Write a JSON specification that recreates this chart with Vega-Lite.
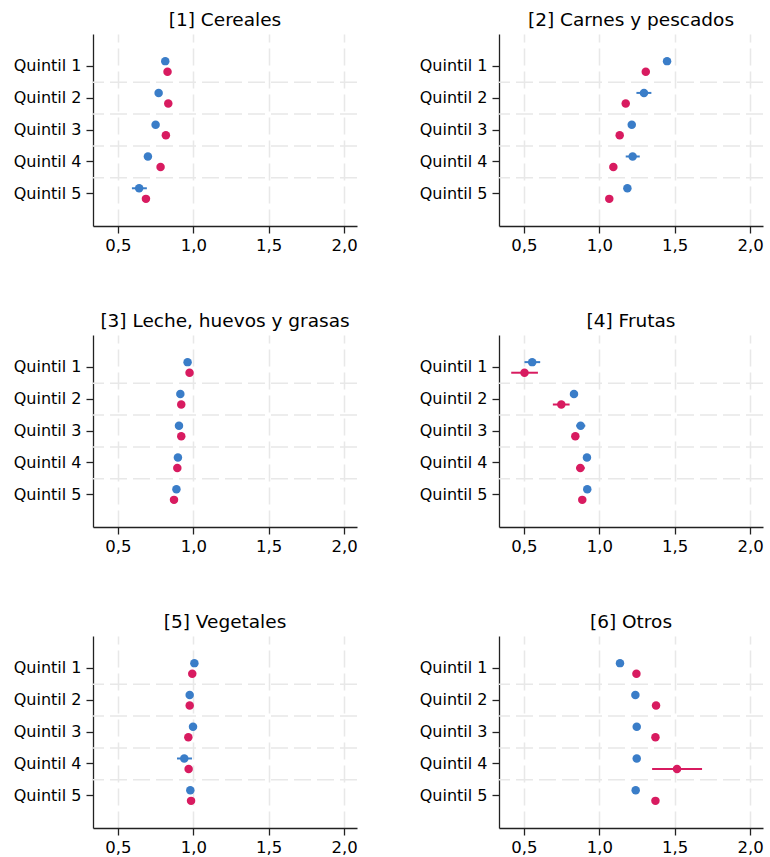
{
  "$schema": "https://vega.github.io/schema/vega-lite/v6.json",
  "padding": {"left": 13, "top": 10, "right": 0, "bottom": 0},
  "background": "white",
  "datasets": {
    "d": [
      {"panel": "[1] Cereales", "quintil": "Quintil 1", "serie": "A", "est": 0.814, "lo": 0.797, "hi": 0.831},
      {"panel": "[1] Cereales", "quintil": "Quintil 1", "serie": "B", "est": 0.829, "lo": 0.812, "hi": 0.846},
      {"panel": "[1] Cereales", "quintil": "Quintil 2", "serie": "A", "est": 0.770, "lo": 0.752, "hi": 0.788},
      {"panel": "[1] Cereales", "quintil": "Quintil 2", "serie": "B", "est": 0.834, "lo": 0.818, "hi": 0.850},
      {"panel": "[1] Cereales", "quintil": "Quintil 3", "serie": "A", "est": 0.750, "lo": 0.733, "hi": 0.767},
      {"panel": "[1] Cereales", "quintil": "Quintil 3", "serie": "B", "est": 0.818, "lo": 0.802, "hi": 0.834},
      {"panel": "[1] Cereales", "quintil": "Quintil 4", "serie": "A", "est": 0.699, "lo": 0.680, "hi": 0.718},
      {"panel": "[1] Cereales", "quintil": "Quintil 4", "serie": "B", "est": 0.783, "lo": 0.766, "hi": 0.800},
      {"panel": "[1] Cereales", "quintil": "Quintil 5", "serie": "A", "est": 0.641, "lo": 0.593, "hi": 0.692},
      {"panel": "[1] Cereales", "quintil": "Quintil 5", "serie": "B", "est": 0.686, "lo": 0.668, "hi": 0.704},

      {"panel": "[2] Carnes y pescados", "quintil": "Quintil 1", "serie": "A", "est": 1.449, "lo": 1.428, "hi": 1.470},
      {"panel": "[2] Carnes y pescados", "quintil": "Quintil 1", "serie": "B", "est": 1.308, "lo": 1.290, "hi": 1.326},
      {"panel": "[2] Carnes y pescados", "quintil": "Quintil 2", "serie": "A", "est": 1.296, "lo": 1.246, "hi": 1.345},
      {"panel": "[2] Carnes y pescados", "quintil": "Quintil 2", "serie": "B", "est": 1.175, "lo": 1.157, "hi": 1.193},
      {"panel": "[2] Carnes y pescados", "quintil": "Quintil 3", "serie": "A", "est": 1.215, "lo": 1.196, "hi": 1.234},
      {"panel": "[2] Carnes y pescados", "quintil": "Quintil 3", "serie": "B", "est": 1.135, "lo": 1.117, "hi": 1.153},
      {"panel": "[2] Carnes y pescados", "quintil": "Quintil 4", "serie": "A", "est": 1.221, "lo": 1.175, "hi": 1.268},
      {"panel": "[2] Carnes y pescados", "quintil": "Quintil 4", "serie": "B", "est": 1.093, "lo": 1.075, "hi": 1.111},
      {"panel": "[2] Carnes y pescados", "quintil": "Quintil 5", "serie": "A", "est": 1.186, "lo": 1.167, "hi": 1.205},
      {"panel": "[2] Carnes y pescados", "quintil": "Quintil 5", "serie": "B", "est": 1.066, "lo": 1.048, "hi": 1.084},

      {"panel": "[3] Leche, huevos y grasas", "quintil": "Quintil 1", "serie": "A", "est": 0.962, "lo": 0.947, "hi": 0.977},
      {"panel": "[3] Leche, huevos y grasas", "quintil": "Quintil 1", "serie": "B", "est": 0.975, "lo": 0.959, "hi": 0.991},
      {"panel": "[3] Leche, huevos y grasas", "quintil": "Quintil 2", "serie": "A", "est": 0.914, "lo": 0.900, "hi": 0.928},
      {"panel": "[3] Leche, huevos y grasas", "quintil": "Quintil 2", "serie": "B", "est": 0.920, "lo": 0.905, "hi": 0.935},
      {"panel": "[3] Leche, huevos y grasas", "quintil": "Quintil 3", "serie": "A", "est": 0.905, "lo": 0.891, "hi": 0.919},
      {"panel": "[3] Leche, huevos y grasas", "quintil": "Quintil 3", "serie": "B", "est": 0.920, "lo": 0.905, "hi": 0.935},
      {"panel": "[3] Leche, huevos y grasas", "quintil": "Quintil 4", "serie": "A", "est": 0.898, "lo": 0.884, "hi": 0.912},
      {"panel": "[3] Leche, huevos y grasas", "quintil": "Quintil 4", "serie": "B", "est": 0.894, "lo": 0.879, "hi": 0.909},
      {"panel": "[3] Leche, huevos y grasas", "quintil": "Quintil 5", "serie": "A", "est": 0.888, "lo": 0.874, "hi": 0.902},
      {"panel": "[3] Leche, huevos y grasas", "quintil": "Quintil 5", "serie": "B", "est": 0.872, "lo": 0.857, "hi": 0.887},

      {"panel": "[4] Frutas", "quintil": "Quintil 1", "serie": "A", "est": 0.555, "lo": 0.504, "hi": 0.608},
      {"panel": "[4] Frutas", "quintil": "Quintil 1", "serie": "B", "est": 0.504, "lo": 0.416, "hi": 0.593},
      {"panel": "[4] Frutas", "quintil": "Quintil 2", "serie": "A", "est": 0.832, "lo": 0.812, "hi": 0.852},
      {"panel": "[4] Frutas", "quintil": "Quintil 2", "serie": "B", "est": 0.748, "lo": 0.692, "hi": 0.803},
      {"panel": "[4] Frutas", "quintil": "Quintil 3", "serie": "A", "est": 0.876, "lo": 0.847, "hi": 0.907},
      {"panel": "[4] Frutas", "quintil": "Quintil 3", "serie": "B", "est": 0.841, "lo": 0.822, "hi": 0.860},
      {"panel": "[4] Frutas", "quintil": "Quintil 4", "serie": "A", "est": 0.918, "lo": 0.900, "hi": 0.936},
      {"panel": "[4] Frutas", "quintil": "Quintil 4", "serie": "B", "est": 0.874, "lo": 0.847, "hi": 0.903},
      {"panel": "[4] Frutas", "quintil": "Quintil 5", "serie": "A", "est": 0.920, "lo": 0.902, "hi": 0.938},
      {"panel": "[4] Frutas", "quintil": "Quintil 5", "serie": "B", "est": 0.887, "lo": 0.868, "hi": 0.906},

      {"panel": "[5] Vegetales", "quintil": "Quintil 1", "serie": "A", "est": 1.007, "lo": 0.991, "hi": 1.023},
      {"panel": "[5] Vegetales", "quintil": "Quintil 1", "serie": "B", "est": 0.993, "lo": 0.977, "hi": 1.009},
      {"panel": "[5] Vegetales", "quintil": "Quintil 2", "serie": "A", "est": 0.976, "lo": 0.960, "hi": 0.992},
      {"panel": "[5] Vegetales", "quintil": "Quintil 2", "serie": "B", "est": 0.976, "lo": 0.960, "hi": 0.992},
      {"panel": "[5] Vegetales", "quintil": "Quintil 3", "serie": "A", "est": 0.998, "lo": 0.982, "hi": 1.014},
      {"panel": "[5] Vegetales", "quintil": "Quintil 3", "serie": "B", "est": 0.967, "lo": 0.951, "hi": 0.983},
      {"panel": "[5] Vegetales", "quintil": "Quintil 4", "serie": "A", "est": 0.940, "lo": 0.892, "hi": 0.991},
      {"panel": "[5] Vegetales", "quintil": "Quintil 4", "serie": "B", "est": 0.969, "lo": 0.953, "hi": 0.985},
      {"panel": "[5] Vegetales", "quintil": "Quintil 5", "serie": "A", "est": 0.980, "lo": 0.964, "hi": 0.996},
      {"panel": "[5] Vegetales", "quintil": "Quintil 5", "serie": "B", "est": 0.985, "lo": 0.969, "hi": 1.001},

      {"panel": "[6] Otros", "quintil": "Quintil 1", "serie": "A", "est": 1.137, "lo": 1.120, "hi": 1.154},
      {"panel": "[6] Otros", "quintil": "Quintil 1", "serie": "B", "est": 1.246, "lo": 1.228, "hi": 1.264},
      {"panel": "[6] Otros", "quintil": "Quintil 2", "serie": "A", "est": 1.239, "lo": 1.222, "hi": 1.256},
      {"panel": "[6] Otros", "quintil": "Quintil 2", "serie": "B", "est": 1.376, "lo": 1.356, "hi": 1.396},
      {"panel": "[6] Otros", "quintil": "Quintil 3", "serie": "A", "est": 1.248, "lo": 1.231, "hi": 1.265},
      {"panel": "[6] Otros", "quintil": "Quintil 3", "serie": "B", "est": 1.372, "lo": 1.352, "hi": 1.392},
      {"panel": "[6] Otros", "quintil": "Quintil 4", "serie": "A", "est": 1.248, "lo": 1.231, "hi": 1.265},
      {"panel": "[6] Otros", "quintil": "Quintil 4", "serie": "B", "est": 1.515, "lo": 1.350, "hi": 1.681},
      {"panel": "[6] Otros", "quintil": "Quintil 5", "serie": "A", "est": 1.241, "lo": 1.224, "hi": 1.258},
      {"panel": "[6] Otros", "quintil": "Quintil 5", "serie": "B", "est": 1.372, "lo": 1.352, "hi": 1.392}
    ]
  },
  "data": {"name": "d"},
  "columns": 2,
  "spacing": {"row": 109, "column": 142},
  "bounds": "flush",
  "concat": [
    {
      "title": "[1] Cereales", "width": 264, "height": 192,
      "transform": [{"filter": "datum.panel == '[1] Cereales'"}],
      "layer": [
        {"transform": [{"filter": "datum.quintil != 'Quintil 1' && datum.serie == 'A'"}],
         "mark": {"type": "rule", "color": "#e8e8e8", "strokeWidth": 1.5, "strokeDash": [17, 6]},
         "encoding": {"y": {"field": "quintil", "type": "ordinal", "bandPosition": 0}}},
        {"mark": {"type": "rule", "strokeWidth": 2},
         "encoding": {
           "y": {"field": "quintil", "type": "ordinal"},
           "yOffset": {"field": "serie", "type": "nominal"},
           "x": {"field": "lo", "type": "quantitative", "scale": {"domain": [0.335, 2.085], "nice": false, "zero": false}},
           "x2": {"field": "hi"},
           "color": {"field": "serie", "type": "nominal", "legend": null}}},
        {"mark": {"type": "point", "filled": true, "size": 72, "opacity": 1},
         "encoding": {
           "y": {"field": "quintil", "type": "ordinal", "title": null},
           "yOffset": {"field": "serie", "type": "nominal"},
           "x": {"field": "est", "type": "quantitative", "title": null,
                 "scale": {"domain": [0.335, 2.085], "nice": false, "zero": false},
                 "axis": {"values": [0.5, 1, 1.5, 2]}},
           "color": {"field": "serie", "type": "nominal", "legend": null}}}
      ]
    },
    {
      "title": "[2] Carnes y pescados", "width": 264, "height": 192,
      "transform": [{"filter": "datum.panel == '[2] Carnes y pescados'"}],
      "layer": [
        {"transform": [{"filter": "datum.quintil != 'Quintil 1' && datum.serie == 'A'"}],
         "mark": {"type": "rule", "color": "#e8e8e8", "strokeWidth": 1.5, "strokeDash": [17, 6]},
         "encoding": {"y": {"field": "quintil", "type": "ordinal", "bandPosition": 0}}},
        {"mark": {"type": "rule", "strokeWidth": 2},
         "encoding": {
           "y": {"field": "quintil", "type": "ordinal"},
           "yOffset": {"field": "serie", "type": "nominal"},
           "x": {"field": "lo", "type": "quantitative", "scale": {"domain": [0.335, 2.085], "nice": false, "zero": false}},
           "x2": {"field": "hi"},
           "color": {"field": "serie", "type": "nominal", "legend": null}}},
        {"mark": {"type": "point", "filled": true, "size": 72, "opacity": 1},
         "encoding": {
           "y": {"field": "quintil", "type": "ordinal", "title": null},
           "yOffset": {"field": "serie", "type": "nominal"},
           "x": {"field": "est", "type": "quantitative", "title": null,
                 "scale": {"domain": [0.335, 2.085], "nice": false, "zero": false},
                 "axis": {"values": [0.5, 1, 1.5, 2]}},
           "color": {"field": "serie", "type": "nominal", "legend": null}}}
      ]
    },
    {
      "title": "[3] Leche, huevos y grasas", "width": 264, "height": 192,
      "transform": [{"filter": "datum.panel == '[3] Leche, huevos y grasas'"}],
      "layer": [
        {"transform": [{"filter": "datum.quintil != 'Quintil 1' && datum.serie == 'A'"}],
         "mark": {"type": "rule", "color": "#e8e8e8", "strokeWidth": 1.5, "strokeDash": [17, 6]},
         "encoding": {"y": {"field": "quintil", "type": "ordinal", "bandPosition": 0}}},
        {"mark": {"type": "rule", "strokeWidth": 2},
         "encoding": {
           "y": {"field": "quintil", "type": "ordinal"},
           "yOffset": {"field": "serie", "type": "nominal"},
           "x": {"field": "lo", "type": "quantitative", "scale": {"domain": [0.335, 2.085], "nice": false, "zero": false}},
           "x2": {"field": "hi"},
           "color": {"field": "serie", "type": "nominal", "legend": null}}},
        {"mark": {"type": "point", "filled": true, "size": 72, "opacity": 1},
         "encoding": {
           "y": {"field": "quintil", "type": "ordinal", "title": null},
           "yOffset": {"field": "serie", "type": "nominal"},
           "x": {"field": "est", "type": "quantitative", "title": null,
                 "scale": {"domain": [0.335, 2.085], "nice": false, "zero": false},
                 "axis": {"values": [0.5, 1, 1.5, 2]}},
           "color": {"field": "serie", "type": "nominal", "legend": null}}}
      ]
    },
    {
      "title": "[4] Frutas", "width": 264, "height": 192,
      "transform": [{"filter": "datum.panel == '[4] Frutas'"}],
      "layer": [
        {"transform": [{"filter": "datum.quintil != 'Quintil 1' && datum.serie == 'A'"}],
         "mark": {"type": "rule", "color": "#e8e8e8", "strokeWidth": 1.5, "strokeDash": [17, 6]},
         "encoding": {"y": {"field": "quintil", "type": "ordinal", "bandPosition": 0}}},
        {"mark": {"type": "rule", "strokeWidth": 2},
         "encoding": {
           "y": {"field": "quintil", "type": "ordinal"},
           "yOffset": {"field": "serie", "type": "nominal"},
           "x": {"field": "lo", "type": "quantitative", "scale": {"domain": [0.335, 2.085], "nice": false, "zero": false}},
           "x2": {"field": "hi"},
           "color": {"field": "serie", "type": "nominal", "legend": null}}},
        {"mark": {"type": "point", "filled": true, "size": 72, "opacity": 1},
         "encoding": {
           "y": {"field": "quintil", "type": "ordinal", "title": null},
           "yOffset": {"field": "serie", "type": "nominal"},
           "x": {"field": "est", "type": "quantitative", "title": null,
                 "scale": {"domain": [0.335, 2.085], "nice": false, "zero": false},
                 "axis": {"values": [0.5, 1, 1.5, 2]}},
           "color": {"field": "serie", "type": "nominal", "legend": null}}}
      ]
    },
    {
      "title": "[5] Vegetales", "width": 264, "height": 192,
      "transform": [{"filter": "datum.panel == '[5] Vegetales'"}],
      "layer": [
        {"transform": [{"filter": "datum.quintil != 'Quintil 1' && datum.serie == 'A'"}],
         "mark": {"type": "rule", "color": "#e8e8e8", "strokeWidth": 1.5, "strokeDash": [17, 6]},
         "encoding": {"y": {"field": "quintil", "type": "ordinal", "bandPosition": 0}}},
        {"mark": {"type": "rule", "strokeWidth": 2},
         "encoding": {
           "y": {"field": "quintil", "type": "ordinal"},
           "yOffset": {"field": "serie", "type": "nominal"},
           "x": {"field": "lo", "type": "quantitative", "scale": {"domain": [0.335, 2.085], "nice": false, "zero": false}},
           "x2": {"field": "hi"},
           "color": {"field": "serie", "type": "nominal", "legend": null}}},
        {"mark": {"type": "point", "filled": true, "size": 72, "opacity": 1},
         "encoding": {
           "y": {"field": "quintil", "type": "ordinal", "title": null},
           "yOffset": {"field": "serie", "type": "nominal"},
           "x": {"field": "est", "type": "quantitative", "title": null,
                 "scale": {"domain": [0.335, 2.085], "nice": false, "zero": false},
                 "axis": {"values": [0.5, 1, 1.5, 2]}},
           "color": {"field": "serie", "type": "nominal", "legend": null}}}
      ]
    },
    {
      "title": "[6] Otros", "width": 264, "height": 192,
      "transform": [{"filter": "datum.panel == '[6] Otros'"}],
      "layer": [
        {"transform": [{"filter": "datum.quintil != 'Quintil 1' && datum.serie == 'A'"}],
         "mark": {"type": "rule", "color": "#e8e8e8", "strokeWidth": 1.5, "strokeDash": [17, 6]},
         "encoding": {"y": {"field": "quintil", "type": "ordinal", "bandPosition": 0}}},
        {"mark": {"type": "rule", "strokeWidth": 2},
         "encoding": {
           "y": {"field": "quintil", "type": "ordinal"},
           "yOffset": {"field": "serie", "type": "nominal"},
           "x": {"field": "lo", "type": "quantitative", "scale": {"domain": [0.335, 2.085], "nice": false, "zero": false}},
           "x2": {"field": "hi"},
           "color": {"field": "serie", "type": "nominal", "legend": null}}},
        {"mark": {"type": "point", "filled": true, "size": 72, "opacity": 1},
         "encoding": {
           "y": {"field": "quintil", "type": "ordinal", "title": null},
           "yOffset": {"field": "serie", "type": "nominal"},
           "x": {"field": "est", "type": "quantitative", "title": null,
                 "scale": {"domain": [0.335, 2.085], "nice": false, "zero": false},
                 "axis": {"values": [0.5, 1, 1.5, 2]}},
           "color": {"field": "serie", "type": "nominal", "legend": null}}}
      ]
    }
  ],
  "config": {
    "view": {"stroke": null},
    "font": "DejaVu Sans",
    "scale": {"bandPaddingInner": 0, "bandPaddingOuter": 0.52, "offsetBandPaddingInner": 0, "offsetBandPaddingOuter": 0.5},
    "range": {"category": ["#3a7dc8", "#d81b60"]},
    "axis": {"domainColor": "#222222", "domainWidth": 1.3, "tickColor": "#222222", "tickWidth": 1.3, "tickSize": 7,
             "labelFont": "DejaVu Sans", "labelFontSize": 16, "labelColor": "#000000",
             "gridColor": "#e8e8e8", "gridWidth": 1.5, "gridDash": [17, 6], "title": null},
    "axisY": {"grid": false, "labelPadding": 5},
    "axisX": {"labelPadding": 4, "labelFontSize": 16.5, "labelFlush": false, "grid": true,
              "labelExpr": "replace(format(datum.value, '.1f'), '.', ',')"},
    "title": {"font": "DejaVu Sans", "fontSize": 18.5, "fontWeight": "normal", "color": "#000000", "offset": 5}
  }
}
